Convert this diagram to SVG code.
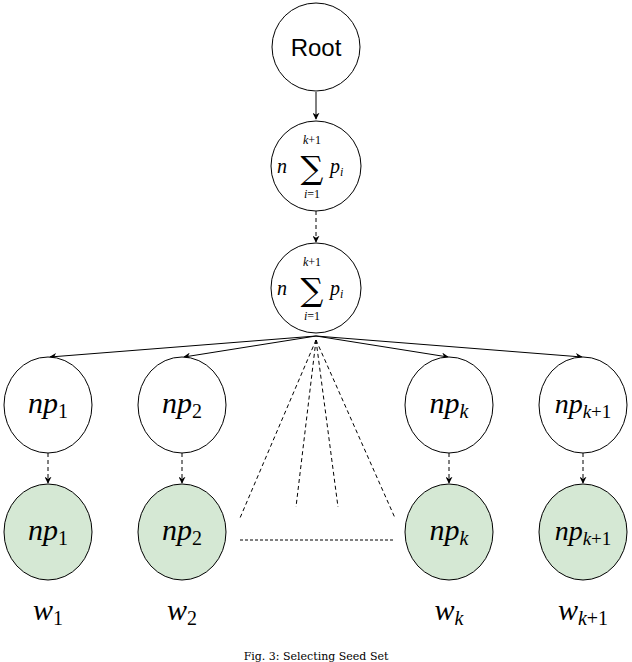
<svg xmlns="http://www.w3.org/2000/svg" width="632" height="662" viewBox="0 0 632 662">
<style>
.n{fill:#fff;stroke:#000;stroke-width:1}
.g{fill:#d5e8d4;stroke:#000;stroke-width:1}
.m{font-family:"Liberation Serif","Times New Roman",serif;font-style:italic;fill:#000}
.s{font-family:"DejaVu Serif",serif;fill:#000}
.c{stroke:#000;fill:none;stroke-width:1}
.d{stroke-dasharray:4 3}
</style>
<defs><marker id="a" viewBox="0 0 10 10" refX="9" refY="5" markerWidth="7" markerHeight="7" orient="auto"><path d="M0,0L10,5L0,10L3,5z" fill="#000"/></marker></defs>
<g id="edges">
<line class="c" x1="316" y1="92" x2="316" y2="119" marker-end="url(#a)"/>
<line class="c d" x1="316" y1="211" x2="316" y2="242" marker-end="url(#a)"/>
<line class="c" x1="316" y1="336" x2="50" y2="357" marker-end="url(#a)"/>
<line class="c" x1="316" y1="336" x2="184" y2="357" marker-end="url(#a)"/>
<line class="c" x1="316" y1="336" x2="448" y2="357" marker-end="url(#a)"/>
<line class="c" x1="316" y1="336" x2="582" y2="357" marker-end="url(#a)"/>
<line class="c d" x1="316" y1="340" x2="240" y2="518"/>
<line class="c d" x1="316" y1="340" x2="296" y2="507"/>
<line class="c d" x1="316" y1="340" x2="338" y2="507"/>
<line class="c d" x1="316" y1="340" x2="395" y2="518"/>
<line class="c" stroke-dasharray="3 2" x1="240" y1="540" x2="395" y2="540"/>
<line class="c d" x1="48" y1="453" x2="48" y2="483" marker-end="url(#a)"/>
<line class="c d" x1="182" y1="453" x2="182" y2="483" marker-end="url(#a)"/>
<line class="c d" x1="449" y1="453" x2="449" y2="483" marker-end="url(#a)"/>
<line class="c d" x1="583" y1="453" x2="583" y2="483" marker-end="url(#a)"/>
</g>
<g id="root"><circle class="n" cx="316" cy="47" r="44"/><text x="316" y="56" font-family="Liberation Sans,Arial,sans-serif" font-size="24" text-anchor="middle">Root</text></g>
<g id="sum1"><circle class="n" cx="316" cy="166" r="45"/>
<text class="m" x="277" y="173" font-size="20">n</text><text class="s" x="312" y="179" font-size="32" text-anchor="middle">∑</text>
<text class="m" x="312" y="144" font-size="12" text-anchor="middle">k<tspan font-style="normal">+1</tspan></text>
<text class="m" x="312" y="198" font-size="12" text-anchor="middle">i<tspan font-style="normal">=1</tspan></text>
<text class="m" x="330" y="173" font-size="20">p<tspan font-size="12" dy="3">i</tspan></text></g>
<g id="sum2"><circle class="n" cx="316" cy="288" r="45"/>
<text class="m" x="277" y="295" font-size="20">n</text><text class="s" x="312" y="301" font-size="32" text-anchor="middle">∑</text>
<text class="m" x="312" y="266" font-size="12" text-anchor="middle">k<tspan font-style="normal">+1</tspan></text>
<text class="m" x="312" y="320" font-size="12" text-anchor="middle">i<tspan font-style="normal">=1</tspan></text>
<text class="m" x="330" y="295" font-size="20">p<tspan font-size="12" dy="3">i</tspan></text></g>
<g id="np1"><ellipse class="n" cx="48" cy="405" rx="44" ry="48"/><text class="m" x="48" y="413" font-size="30" text-anchor="middle">np<tspan font-style="normal" font-size="20" dy="5">1</tspan></text></g>
<g id="np2"><ellipse class="n" cx="182" cy="405" rx="44" ry="48"/><text class="m" x="182" y="413" font-size="30" text-anchor="middle">np<tspan font-style="normal" font-size="20" dy="5">2</tspan></text></g>
<g id="npk"><ellipse class="n" cx="449" cy="405" rx="44" ry="48"/><text class="m" x="449" y="413" font-size="30" text-anchor="middle">np<tspan font-size="20" dy="5">k</tspan></text></g>
<g id="npk1"><ellipse class="n" cx="583" cy="405" rx="44" ry="48"/><text class="m" x="583" y="413" font-size="28" text-anchor="middle">np<tspan font-size="19" dy="5">k<tspan font-style="normal">+1</tspan></tspan></text></g>
<g id="g1"><ellipse class="g" cx="48" cy="532" rx="44" ry="48"/><text class="m" x="48" y="540" font-size="30" text-anchor="middle">np<tspan font-style="normal" font-size="20" dy="5">1</tspan></text></g>
<g id="g2"><ellipse class="g" cx="182" cy="532" rx="44" ry="48"/><text class="m" x="182" y="540" font-size="30" text-anchor="middle">np<tspan font-style="normal" font-size="20" dy="5">2</tspan></text></g>
<g id="gk"><ellipse class="g" cx="449" cy="532" rx="44" ry="48"/><text class="m" x="449" y="540" font-size="30" text-anchor="middle">np<tspan font-size="20" dy="5">k</tspan></text></g>
<g id="gk1"><ellipse class="g" cx="583" cy="532" rx="44" ry="48"/><text class="m" x="583" y="540" font-size="28" text-anchor="middle">np<tspan font-size="19" dy="5">k<tspan font-style="normal">+1</tspan></tspan></text></g>
<g id="labels">
<text class="m" x="48" y="620" font-size="30" text-anchor="middle">w<tspan font-style="normal" font-size="20" dy="5">1</tspan></text>
<text class="m" x="182" y="620" font-size="30" text-anchor="middle">w<tspan font-style="normal" font-size="20" dy="5">2</tspan></text>
<text class="m" x="449" y="620" font-size="30" text-anchor="middle">w<tspan font-size="20" dy="5">k</tspan></text>
<text class="m" x="583" y="620" font-size="30" text-anchor="middle">w<tspan font-size="20" dy="5">k<tspan font-style="normal">+1</tspan></tspan></text>
<text class="s" x="316" y="660" font-size="11" font-family="Liberation Serif,serif" text-anchor="middle">Fig. 3: Selecting Seed Set</text>
</g>
</svg>
